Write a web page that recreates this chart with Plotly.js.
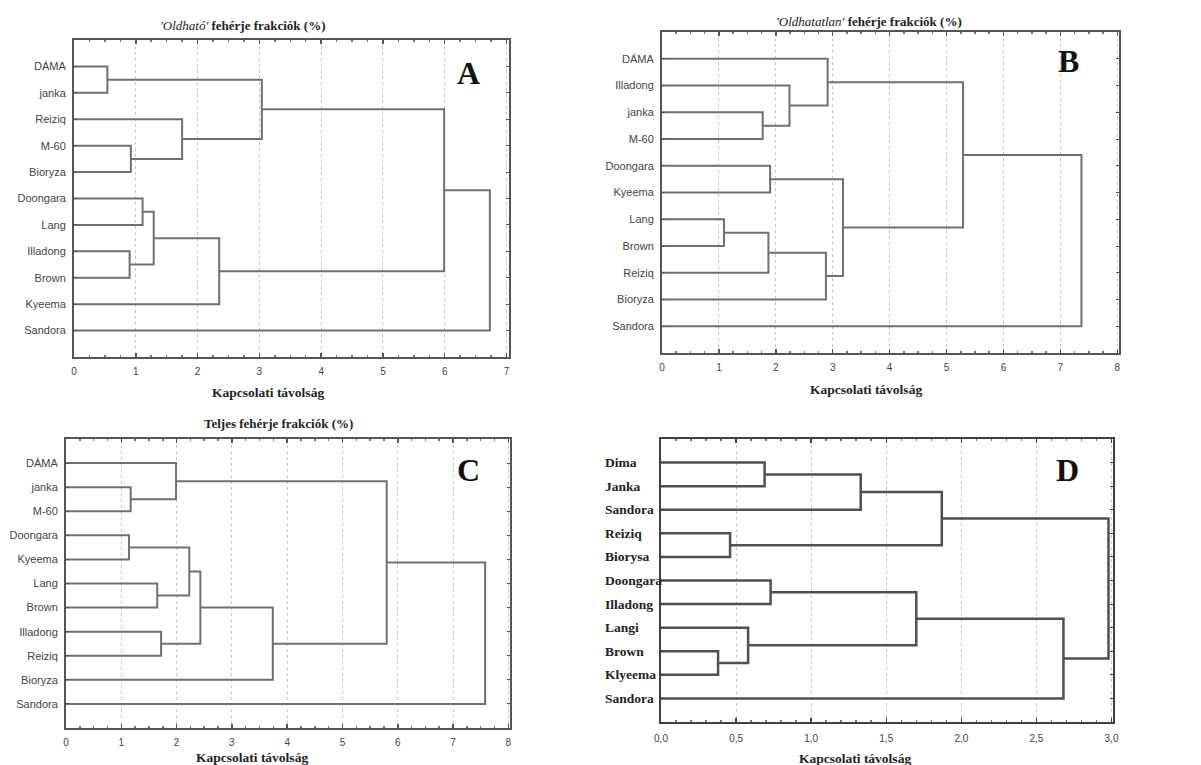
<!DOCTYPE html>
<html>
<head>
<meta charset="utf-8">
<script src="https://cdn.plot.ly/plotly-3.0.1.min.js"></script>
<style>html,body{margin:0;padding:0;background:#fff;}#chart{width:1201px;height:765px;}</style>
</head>
<body>
<div id="chart"></div>
<script>
// ---------- DATA ----------
// Panel A: 'Oldható' fehérje frakciók (%)
const leavesA = ['DÁMA','janka','Reiziq','M-60','Bioryza','Doongara','Lang','Illadong','Brown','Kyeema','Sandora'];
const leftA   = [0, 3,  2, 11, 7, 5, 16, 17, 14, 19];
const rightA  = [1, 4, 12, 13, 8, 6, 15,  9, 18, 10];
const heightA = [0.54, 0.92, 1.75, 3.04, 0.90, 1.11, 1.29, 2.35, 5.99, 6.73];

// Panel B: 'Oldhatatlan' fehérje frakciók (%)
const leavesB = ['DÁMA','Illadong','janka','M-60','Doongara','Kyeema','Lang','Brown','Reiziq','Bioryza','Sandora'];
const leftB   = [2,  1,  0, 6, 14, 4, 15, 16, 13, 19];
const rightB  = [3, 11, 12, 7,  8, 5,  9, 17, 18, 10];
const heightB = [1.77, 2.24, 2.91, 1.09, 1.87, 1.90, 2.88, 3.18, 5.29, 7.37];

// Panel C: Teljes fehérje frakciók (%)
const leavesC = ['DÁMA','janka','M-60','Doongara','Kyeema','Lang','Brown','Illadong','Reiziq','Bioryza','Sandora'];
const leftC   = [1, 3, 5, 7,  0, 12, 16, 17, 15, 19];
const rightC  = [2, 4, 6, 8, 11, 13, 14,  9, 18, 10];
const heightC = [1.17, 1.14, 1.65, 1.72, 1.99, 2.23, 2.43, 3.74, 5.80, 7.58];

// Panel D
const leavesD = ['Dima','Janka','Sandora','Reiziq','Biorysa','Doongara','Illadong','Langi','Brown','Klyeema','Sandora'];
const leftD   = [0, 11, 3, 12, 5, 8,  7, 15, 18, 14];
const rightD  = [1,  2, 4, 13, 6, 9, 16, 17, 10, 19];
const heightD = [0.69, 1.33, 0.46, 1.87, 0.73, 0.38, 0.58, 1.70, 2.68, 2.98];

const xTicksA  = [0,1,2,3,4,5,6,7];
const xTicksBC = [0,1,2,3,4,5,6,7,8];
const xTicksD  = [0,0.5,1,1.5,2,2.5,3];
const axisTitle = 'Kapcsolati távolság';
</script>
<script>
function dendro(n, L, R, H) {
  const nodes = [];
  for (let i = 0; i < n; i++) nodes.push({x: 0, y: i + 1});
  const xs = [], ys = [];
  for (let k = 0; k < H.length; k++) {
    const a = nodes[L[k]], b = nodes[R[k]], h = H[k];
    xs.push(a.x, h, h, b.x, null);
    ys.push(a.y, a.y, b.y, b.y, null);
    nodes.push({x: h, y: (a.y + b.y) / 2});
  }
  return {xs, ys};
}

const W = 1201, Hh = 765;
const px = v => v / W;
const py = v => 1 - v / Hh;
const SERIF = 'Liberation Serif, Times New Roman, serif';
const SANS = 'Liberation Sans, Arial, sans-serif';

const panels = [
  {leaves: leavesA, L: leftA, R: rightA, H: heightA, dom: [74, 509, 40, 357], range: [0, 7.04], ticks: xTicksA, col: '#707070', frame: '#555'},
  {leaves: leavesB, L: leftB, R: rightB, H: heightB, dom: [662, 1119, 32, 353], range: [0, 8.03], ticks: xTicksBC, col: '#707070', frame: '#555'},
  {leaves: leavesC, L: leftC, R: rightC, H: heightC, dom: [66, 510, 439, 728], range: [0, 8.03], ticks: xTicksBC, col: '#707070', frame: '#555'},
  {leaves: leavesD, L: leftD, R: rightD, H: heightD, dom: [661, 1113, 439, 722], range: [0, 3.01], ticks: xTicksD, col: '#505050', frame: '#404040'}
];

const data = [];
const layout = {
  width: W, height: Hh,
  margin: {l: 0, r: 0, t: 0, b: 0},
  paper_bgcolor: '#fff', plot_bgcolor: '#fff',
  showlegend: false,
  separators: ', ',
  annotations: []
};

panels.forEach((p, i) => {
  const s = i === 0 ? '' : String(i + 1);
  const d = dendro(p.leaves.length, p.L, p.R, p.H);
  const isD = i === 3;
  data.push({
    type: 'scatter', mode: 'lines', x: d.xs, y: d.ys,
    xaxis: 'x' + s, yaxis: 'y' + s,
    line: {color: p.col, width: isD ? 2.5 : 2},
    hoverinfo: 'skip', connectgaps: false
  });
  layout['xaxis' + s] = {
    domain: [px(p.dom[0]), px(p.dom[1])],
    anchor: 'y' + s,
    range: p.range,
    tickvals: p.ticks,
    tickformat: isD ? '.1f' : 'd',
    ticks: 'inside', ticklen: 4, tickwidth: 1.5, tickcolor: p.frame,
    minor: {dtick: isD ? 0.1 : 0.25, ticks: 'inside', ticklen: 2, tickcolor: '#777', showgrid: false},
    showline: true, linecolor: p.frame, linewidth: 2, mirror: 'ticks',
    showgrid: true, gridcolor: '#c8c8c8', griddash: 'dot', gridwidth: 1,
    zeroline: false,
    tickfont: {family: SANS, size: isD ? 10 : 10, color: '#444'},
    ticklabelstandoff: isD ? 6 : 4,
    fixedrange: true
  };
  layout['yaxis' + s] = {
    domain: [py(p.dom[3]), py(p.dom[2])],
    anchor: 'x' + s,
    range: [12, 0],
    tickvals: p.leaves.map((_, k) => k + 1),
    ticktext: isD ? p.leaves.map(() => '') : p.leaves,
    showticklabels: !isD,
    ticks: 'inside', ticklen: 3, tickcolor: p.frame,
    showline: true, linecolor: p.frame, linewidth: 2, mirror: 'ticks',
    showgrid: false, zeroline: false,
    tickfont: {family: SANS, size: 11, color: '#444'},
    ticklabelstandoff: 4,
    fixedrange: true
  };
  if (isD) {
    p.leaves.forEach((lab, k) => {
      layout.annotations.push({
        xref: 'paper', yref: 'y' + s, x: px(603), y: k + 1,
        xanchor: 'left', yanchor: 'middle', showarrow: false,
        text: '<b>' + lab + '</b>',
        font: {family: SERIF, size: 13.5, color: '#222'}
      });
    });
  }
});

function ann(x, y, text, size, color) {
  layout.annotations.push({
    xref: 'paper', yref: 'paper', x: px(x), y: py(y),
    xanchor: 'center', yanchor: 'middle', showarrow: false,
    text: text,
    font: {family: SERIF, size: size, color: color || '#222'}
  });
}

// titles
ann(243, 26, "<i>'Oldható'</i> <b>fehérje frakciók (%)</b>", 13);
ann(869, 21, "<i>'Oldhatatlan'</i> <b>fehérje frakciók (%)</b>", 13);
ann(278, 423, '<b>Teljes fehérje frakciók (%)</b>', 13);
// axis titles
ann(268, 393, '<b>' + axisTitle + '</b>', 13.5);
ann(866, 389, '<b>' + axisTitle + '</b>', 13.5);
ann(252, 757, '<b>' + axisTitle + '</b>', 13.5);
ann(855, 758, '<b>' + axisTitle + '</b>', 13.5);
// panel letters
ann(468, 73, '<b>A</b>', 32, '#111');
ann(1068, 61, '<b>B</b>', 32, '#111');
ann(468, 470, '<b>C</b>', 32, '#111');
ann(1067, 470, '<b>D</b>', 32, '#111');

Plotly.newPlot('chart', data, layout, {staticPlot: true, displayModeBar: false});
</script>
</body>
</html>
